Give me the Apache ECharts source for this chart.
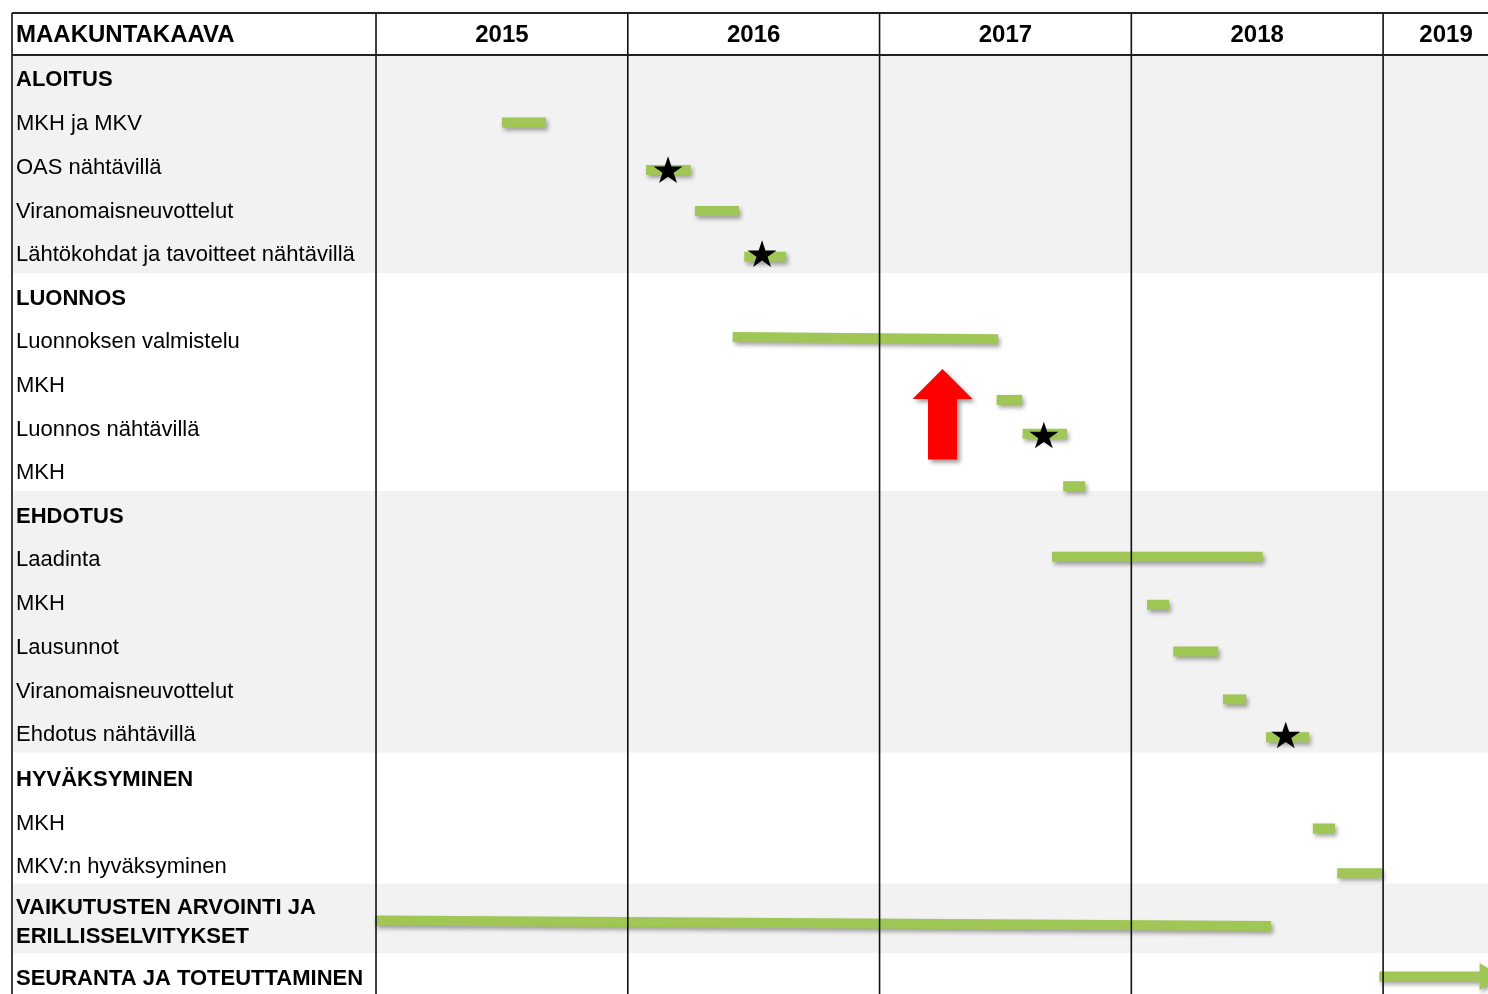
<!DOCTYPE html>
<html><head><meta charset="utf-8">
<script src="https://cdn.jsdelivr.net/npm/echarts@6/dist/echarts.min.js"></script>
<style>html,body{margin:0;padding:0;background:#fff}#c{width:1488px;height:994px}</style>
</head><body><div id="c"></div>
<script>
// Time axis: months counted from January 2015
const years = ['2015', '2016', '2017', '2018', '2019'];
const yearLabelMonth = [6, 18, 30, 42, 51];
const yearStartMonth = [0, 12, 24, 36, 48];
const headerTitle = 'MAAKUNTAKAAVA';

// Row axis: row units from top of table body
const rowLabels = [
  'ALOITUS', 'MKH ja MKV', 'OAS nähtävillä', 'Viranomaisneuvottelut',
  'Lähtökohdat ja tavoitteet nähtävillä',
  'LUONNOS', 'Luonnoksen valmistelu', 'MKH', 'Luonnos nähtävillä', 'MKH',
  'EHDOTUS', 'Laadinta', 'MKH', 'Lausunnot', 'Viranomaisneuvottelut', 'Ehdotus nähtävillä',
  'HYVÄKSYMINEN', 'MKH', 'MKV:n hyväksyminen',
  'VAIKUTUSTEN ARVOINTI JA\nERILLISSELVITYKSET',
  'SEURANTA JA TOTEUTTAMINEN'
];
const rowLabelY = [0.58, 1.59, 2.6, 3.61, 4.59, 5.6, 6.59, 7.6, 8.61, 9.59,
  10.6, 11.59, 12.6, 13.61, 14.61, 15.6, 16.63, 17.63, 18.63, 19.9, 21.2];
const rowBold = [1, 0, 0, 0, 0, 1, 0, 0, 0, 0, 1, 0, 0, 0, 0, 0, 1, 0, 0, 1, 1];

// Shaded phase bands (row units)
const bandStart = [0, 10, 19];
const bandEnd = [5, 16, 20.6];

// Task bars (months from Jan 2015, row positions)
const taskStart = [6.0, 12.87, 15.2, 17.55, 17.0, 29.58, 30.82, 32.75, 32.22, 36.75, 38.0, 40.37, 42.42, 44.65, 45.81, -0.05];
const taskEnd   = [8.1, 15.0, 17.3, 19.55, 29.65, 30.8, 32.93, 33.8, 42.26, 37.8, 40.14, 41.47, 44.47, 45.71, 47.95, 42.66];
const taskRowY0 = [1.55, 2.64, 3.58, 4.63, 6.47, 7.91, 8.69, 9.89, 11.51, 12.61, 13.68, 14.78, 15.65, 17.74, 18.77, 19.85];
const taskRowY1 = [1.55, 2.64, 3.58, 4.63, 6.52, 7.91, 8.69, 9.89, 11.51, 12.61, 13.68, 14.78, 15.65, 17.74, 18.77, 19.98];

// Milestones (stars)
const milestoneMonth = [13.92, 18.4, 31.83, 43.36];
const milestoneRowY = [2.63, 4.555, 8.716, 15.596];

// Ongoing (arrow bar)
const ongoingStart = [47.82];
const ongoingHeadStart = [52.6];
const ongoingTip = [53.6];
const ongoingRowY = [21.135];

// "Now" marker (red arrow)
const markerMonth = [27.0];
const markerTipY = [7.20];
const markerHeadY = [7.89];
const markerTailY = [9.28];

const X_MIN = -17.35, X_MAX = 53.0, Y_MIN = -0.963, Y_MAX = 21.537;
const FONT = 'Liberation Sans, Arial, sans-serif';
const GREEN = '#a0c655';

const chart = echarts.init(document.getElementById('c'), null, {renderer: 'canvas'});

const shadow = {shadowColor: 'rgba(0,0,0,0.35)', shadowBlur: 4, shadowOffsetX: 2, shadowOffsetY: 3};

const starPath = 'path://M50 0 L61.23 34.55 L97.55 34.55 L68.17 55.9 L79.39 90.45 L50 69.1 L20.61 90.45 L31.83 55.9 L2.45 34.55 L38.77 34.55 Z';

const option = {
  animation: false,
  grid: {left: 12, right: 0, top: 13, bottom: 0},
  xAxis: {type: 'value', min: X_MIN, max: X_MAX, show: false},
  yAxis: {type: 'value', min: Y_MIN, max: Y_MAX, inverse: true, show: false},
  series: [
    { // bands
      type: 'custom', z: 1,
      data: bandStart.map((s, i) => [s, bandEnd[i]]),
      renderItem: (params, api) => {
        const p0 = api.coord([X_MIN, api.value(0)]);
        const p1 = api.coord([X_MAX, api.value(1)]);
        return {type: 'rect', shape: {x: p0[0], y: p0[1], width: p1[0] - p0[0], height: p1[1] - p0[1]},
          style: {fill: '#f2f2f2'}};
      }
    },
    { // task bars
      type: 'custom', z: 3,
      data: taskStart.map((s, i) => [s, taskEnd[i], taskRowY0[i], taskRowY1[i]]),
      renderItem: (params, api) => {
        const a = api.coord([api.value(0), api.value(2)]);
        const b = api.coord([api.value(1), api.value(3)]);
        const h = 5;
        return {type: 'polygon', shape: {points: [[a[0], a[1] - h], [b[0], b[1] - h], [b[0], b[1] + h], [a[0], a[1] + h]]},
          style: Object.assign({fill: GREEN}, shadow)};
      }
    },
    { // ongoing arrow
      type: 'custom', z: 3,
      data: ongoingStart.map((s, i) => [s, ongoingHeadStart[i], ongoingTip[i], ongoingRowY[i]]),
      renderItem: (params, api) => {
        const a = api.coord([api.value(0), api.value(3)]);
        const hx = api.coord([api.value(1), api.value(3)])[0];
        const tx = api.coord([api.value(2), api.value(3)])[0];
        const cy = a[1], s = 5, hh = 13.5;
        return {type: 'polygon', shape: {points: [[a[0], cy - s], [hx, cy - s], [hx, cy - hh], [tx, cy], [hx, cy + hh], [hx, cy + s], [a[0], cy + s]]},
          style: Object.assign({fill: GREEN}, shadow)};
      }
    },
    { // grid lines
      type: 'custom', z: 4,
      data: [X_MIN].concat(yearStartMonth).map(v => [v, 0]).concat([[Y_MIN, 1], [0, 1]]),
      renderItem: (params, api) => {
        if (api.value(1) === 0) {
          const a = api.coord([api.value(0), Y_MIN]);
          const b = api.coord([api.value(0), Y_MAX]);
          return {type: 'line', shape: {x1: a[0], y1: a[1], x2: b[0], y2: b[1]}, style: {stroke: '#111', lineWidth: 1.6}};
        }
        const a = api.coord([X_MIN, api.value(0)]);
        const b = api.coord([X_MAX, api.value(0)]);
        return {type: 'line', shape: {x1: a[0], y1: a[1], x2: b[0], y2: b[1]}, style: {stroke: '#222', lineWidth: 2}};
      }
    },
    { // milestones
      type: 'scatter', z: 5,
      symbol: starPath, symbolSize: [29, 28], symbolKeepAspect: true,
      itemStyle: {color: '#000', opacity: 1},
      data: milestoneMonth.map((m, i) => [m, milestoneRowY[i]]),
      silent: true
    },
    { // red arrow marker
      type: 'custom', z: 5,
      data: markerMonth.map((m, i) => [m, markerTipY[i], markerHeadY[i], markerTailY[i]]),
      renderItem: (params, api) => {
        const t = api.coord([api.value(0), api.value(1)]);
        const hy = api.coord([api.value(0), api.value(2)])[1];
        const ty = api.coord([api.value(0), api.value(3)])[1];
        const cx = t[0], hw = 30, sw = 14.5;
        return {type: 'polygon', shape: {points: [[cx, t[1]], [cx + hw, hy], [cx + sw, hy], [cx + sw, ty], [cx - sw, ty], [cx - sw, hy], [cx - hw, hy]]},
          style: Object.assign({fill: '#ff0000'}, {shadowColor: 'rgba(0,0,0,0.4)', shadowBlur: 4, shadowOffsetX: 3, shadowOffsetY: 3})};
      }
    },
    { // row labels
      type: 'custom', z: 6,
      data: rowLabelY.map(y => [X_MIN, y]),
      renderItem: (params, api) => {
        const p = api.coord([api.value(0), api.value(1)]);
        const i = params.dataIndex;
        return {type: 'text', x: p[0] + 4, y: p[1],
          style: {text: rowLabels[i], fill: '#000', fontSize: 22, fontWeight: rowBold[i] ? 'bold' : 'normal',
            fontFamily: FONT, align: 'left', verticalAlign: 'middle', lineHeight: 29}};
      }
    },
    { // header labels
      type: 'custom', z: 6,
      data: [[X_MIN, -0.44]].concat(yearLabelMonth.map(m => [m, -0.44])),
      renderItem: (params, api) => {
        const p = api.coord([api.value(0), api.value(1)]);
        const i = params.dataIndex;
        const isTitle = i === 0;
        return {type: 'text', x: isTitle ? p[0] + 4 : p[0], y: p[1],
          style: {text: isTitle ? headerTitle : years[i - 1], fill: '#000', fontSize: 24, fontWeight: 'bold',
            fontFamily: FONT, align: isTitle ? 'left' : 'center', verticalAlign: 'middle'}};
      }
    }
  ]
};
chart.setOption(option);
</script></body></html>
